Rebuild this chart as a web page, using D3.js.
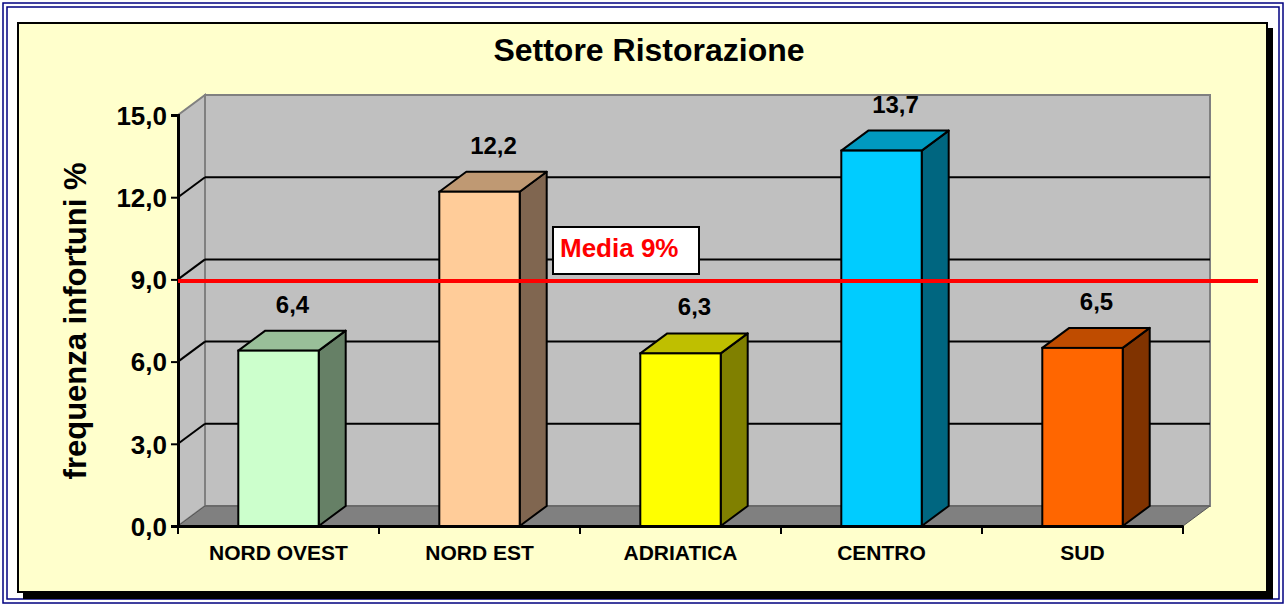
<!DOCTYPE html>
<html>
<head>
<meta charset="utf-8">
<script src="https://cdn.jsdelivr.net/npm/d3@7"></script>
<style>
  body { margin: 0; background: #fff; }
  svg text { font-family: Arial, "Liberation Sans", sans-serif; font-weight: bold; }
</style>
</head>
<body>
<div id="chart"></div>
<script>
// data
var categories = ["NORD OVEST", "NORD EST", "ADRIATICA", "CENTRO", "SUD"];
var values = [6.4, 12.2, 6.3, 13.7, 6.5];
var yTicks = [0, 3, 6, 9, 12, 15];
var mediaValue = 9;
var mediaLabel = "Media 9%";

// front / top / side colours of each bar
var frontColors = ["#CCFFCC", "#FFCC99", "#FFFF00", "#00CCFF", "#FF6600"];
var topColors   = ["#99BF99", "#BF9973", "#BFBF00", "#0099BF", "#BF4C00"];
var sideColors  = ["#668066", "#806650", "#808000", "#006680", "#803300"];

var W = 1285, H = 605;
var dx = 27, dy = 20; // 3d depth

var svg = d3.select("#chart").append("svg")
  .attr("width", W)
  .attr("height", H);

// outer double frame
svg.append("rect").attr("x", 3).attr("y", 3).attr("width", 1280).attr("height", 600)
  .attr("fill", "none").attr("stroke", "#000080").attr("stroke-width", 1.5);
svg.append("rect").attr("x", 7).attr("y", 7).attr("width", 1272).attr("height", 592)
  .attr("fill", "none").attr("stroke", "#000080").attr("stroke-width", 1.5);

// chart area with shadow
svg.append("rect").attr("x", 23).attr("y", 28).attr("width", 1250).attr("height", 571)
  .attr("fill", "#000");
svg.append("rect").attr("x", 18).attr("y", 23).attr("width", 1249).attr("height", 569)
  .attr("fill", "#FFFFCC").attr("stroke", "#000").attr("stroke-width", 2);

var x = d3.scaleBand().domain(categories).range([178, 1183]).padding(0);
var y = d3.scaleLinear().domain([0, 15]).range([526, 115]);
var barW = x.bandwidth() * 0.4;

var x0 = x.range()[0], x1 = x.range()[1];
var yTop = y(15), yBot = y(0);

// walls
var g = svg.append("g");
g.append("rect")
  .attr("x", x0 + dx).attr("y", yTop - dy)
  .attr("width", x1 - x0).attr("height", yBot - yTop)
  .attr("fill", "#C0C0C0").attr("stroke", "#808080").attr("stroke-width", 2);
g.append("polygon")
  .attr("points", [[x0, yTop], [x0 + dx, yTop - dy], [x0 + dx, yBot - dy], [x0, yBot]].join(" "))
  .attr("fill", "#C0C0C0").attr("stroke", "#808080").attr("stroke-width", 2);
g.append("polygon")
  .attr("points", [[x0, yBot], [x0 + dx, yBot - dy], [x1 + dx, yBot - dy], [x1, yBot]].join(" "))
  .attr("fill", "#808080").attr("stroke", "#555").attr("stroke-width", 1);

// gridlines on back and left walls
var grid = yTicks.filter(function(d) { return d > 0 && d < 15; });
g.selectAll(".gridback").data(grid).enter().append("line")
  .attr("x1", x0 + dx).attr("x2", x1 + dx)
  .attr("y1", function(d) { return y(d) - dy; })
  .attr("y2", function(d) { return y(d) - dy; })
  .attr("stroke", "#000").attr("stroke-width", 2);
g.selectAll(".gridside").data(grid).enter().append("line")
  .attr("x1", x0).attr("x2", x0 + dx)
  .attr("y1", function(d) { return y(d); })
  .attr("y2", function(d) { return y(d) - dy; })
  .attr("stroke", "#000").attr("stroke-width", 2);

// bars
var bars = svg.selectAll(".bar").data(values).enter().append("g").attr("class", "bar");
function bx(i) { return x(categories[i]) + (x.bandwidth() - barW) / 2; }

bars.append("polygon")
  .attr("points", function(d, i) {
    var l = bx(i), r = l + barW, t = y(d);
    return [[r, t], [r + dx, t - dy], [r + dx, yBot - dy], [r, yBot]].join(" ");
  })
  .attr("fill", function(d, i) { return sideColors[i]; })
  .attr("stroke", "#000").attr("stroke-width", 2).attr("stroke-linejoin", "round");
bars.append("polygon")
  .attr("points", function(d, i) {
    var l = bx(i), r = l + barW, t = y(d);
    return [[l, t], [l + dx, t - dy], [r + dx, t - dy], [r, t]].join(" ");
  })
  .attr("fill", function(d, i) { return topColors[i]; })
  .attr("stroke", "#000").attr("stroke-width", 2).attr("stroke-linejoin", "round");
bars.append("rect")
  .attr("x", function(d, i) { return bx(i); })
  .attr("y", function(d) { return y(d); })
  .attr("width", barW)
  .attr("height", function(d) { return yBot - y(d); })
  .attr("fill", function(d, i) { return frontColors[i]; })
  .attr("stroke", "#000").attr("stroke-width", 2);

// value labels
bars.append("text")
  .attr("x", function(d, i) { return bx(i) + barW / 2 + 14; })
  .attr("y", function(d) { return y(d) - 38; })
  .attr("text-anchor", "middle")
  .attr("font-size", 24)
  .attr("fill", "#000")
  .text(function(d) { return d3.format(".1f")(d).replace(".", ","); });

// y axis
var yAxis = svg.append("g").attr("transform", "translate(" + x0 + ",0)")
  .call(d3.axisLeft(y).tickValues(yTicks).tickSize(7).tickPadding(4)
    .tickFormat(function(d) { return d3.format(".1f")(d).replace(".", ","); }));
yAxis.select(".domain").attr("stroke", "#000").attr("stroke-width", 3);
yAxis.selectAll(".tick line").attr("stroke", "#000").attr("stroke-width", 2);
yAxis.selectAll(".tick text").attr("font-size", 26).attr("fill", "#000")
  .attr("font-family", "Arial, 'Liberation Sans', sans-serif").attr("font-weight", "bold")
  .attr("dy", "0.36em");

// x axis
var xAxis = svg.append("g").attr("transform", "translate(0," + yBot + ")")
  .call(d3.axisBottom(x).tickSize(0).tickPadding(34));
xAxis.select(".domain").attr("stroke", "#000").attr("stroke-width", 3);
xAxis.selectAll(".tick text").attr("font-size", 21).attr("fill", "#000")
  .attr("font-family", "Arial, 'Liberation Sans', sans-serif").attr("font-weight", "bold")
  .attr("dy", "0");
// category separators
var seps = d3.range(categories.length + 1).map(function(i) { return x0 + i * x.step(); });
svg.selectAll(".sep").data(seps).enter().append("line")
  .attr("x1", function(d) { return d; }).attr("x2", function(d) { return d; })
  .attr("y1", yBot).attr("y2", yBot + 8)
  .attr("stroke", "#000").attr("stroke-width", 2);

// media line + label
svg.append("line")
  .attr("x1", x0).attr("x2", 1258)
  .attr("y1", y(mediaValue) + 1.5).attr("y2", y(mediaValue) + 1.5)
  .attr("stroke", "#FF0000").attr("stroke-width", 4);
svg.append("rect")
  .attr("x", 553).attr("y", 227).attr("width", 146).attr("height", 47)
  .attr("fill", "#fff").attr("stroke", "#000").attr("stroke-width", 2);
svg.append("text")
  .attr("x", 560).attr("y", 257)
  .attr("font-size", 26).attr("fill", "#FF0000")
  .text(mediaLabel);

// titles
svg.append("text")
  .attr("x", 649).attr("y", 61)
  .attr("text-anchor", "middle")
  .attr("font-size", 32).attr("fill", "#000")
  .text("Settore Ristorazione");
svg.append("text")
  .attr("transform", "translate(86,321) rotate(-90)")
  .attr("text-anchor", "middle")
  .attr("font-size", 31).attr("fill", "#000")
  .text("frequenza infortuni %");
</script>
</body>
</html>
